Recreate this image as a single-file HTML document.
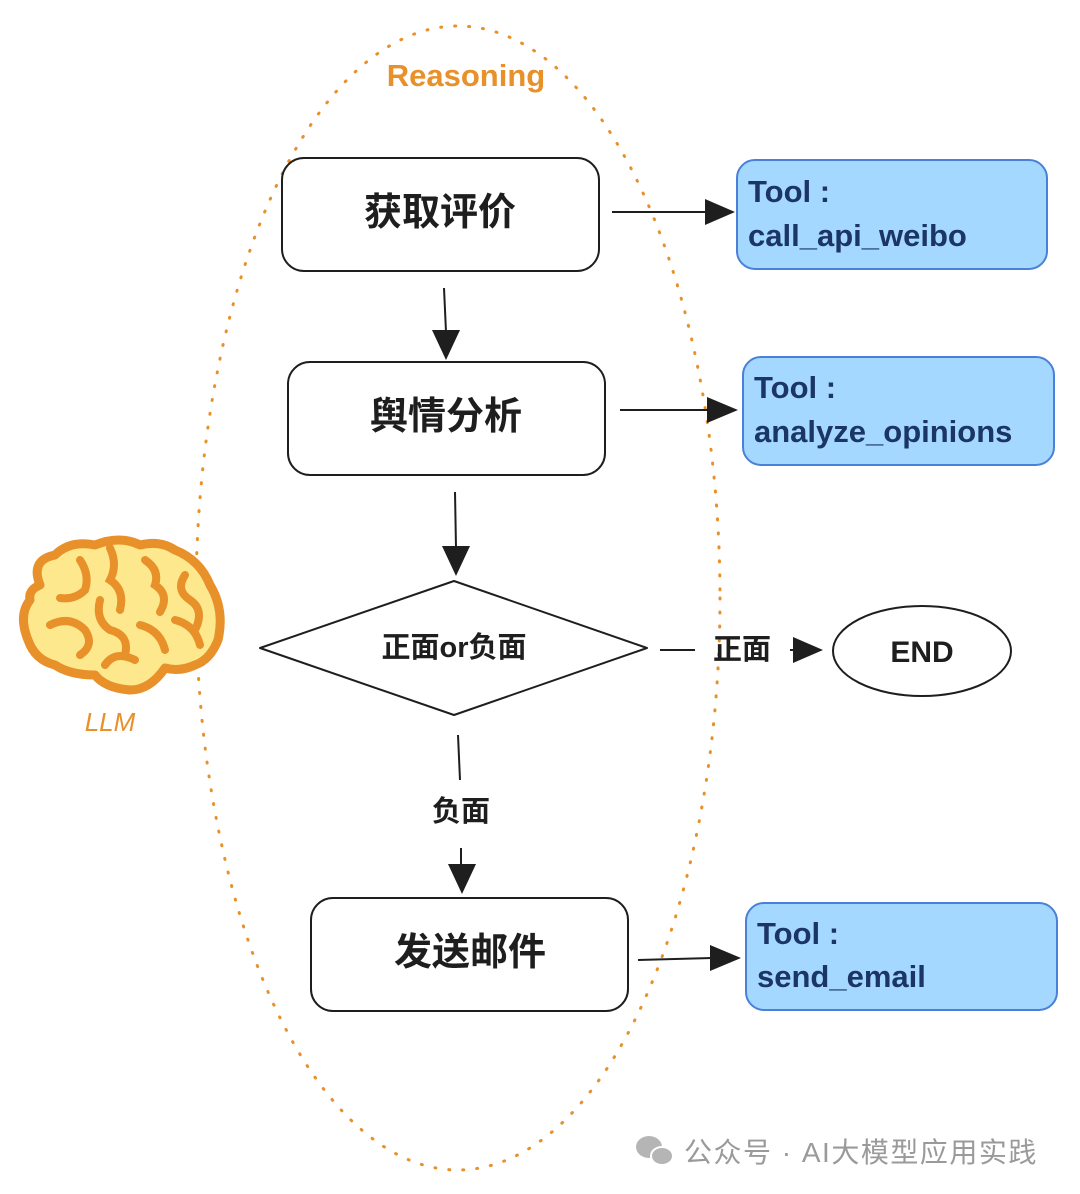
<!DOCTYPE html>
<html><head><meta charset="utf-8"><style>
html,body{margin:0;padding:0;background:#fff;}
svg{display:block;}
text{font-family:"Liberation Sans","Noto Sans CJK SC",sans-serif;}
</style></head><body>
<svg width="1080" height="1194" viewBox="0 0 1080 1194" xmlns="http://www.w3.org/2000/svg">
<ellipse cx="458" cy="598" rx="262" ry="572" fill="none" stroke="#e8902a" stroke-width="3" stroke-dasharray="1 13" stroke-linecap="round"/>
<text x="466" y="86" font-size="31" fill="#e8902a" text-anchor="middle" font-weight="bold">Reasoning</text>

<g fill="#fff" stroke="#1e1e1e" stroke-width="2">
<rect x="282" y="158" width="317" height="113" rx="22"/>
<rect x="288" y="362" width="317" height="113" rx="22"/>
<rect x="311" y="898" width="317" height="113" rx="22"/>
<path d="M260 648 L454 581 L647 648 L454 715 Z" stroke-linejoin="round"/>
<ellipse cx="922" cy="651" rx="89" ry="45"/>
</g>
<g font-size="38" fill="#1e1e1e" text-anchor="middle" font-weight="bold">
<text x="440" y="225">获取评价</text>
<text x="446" y="429">舆情分析</text>
<text x="470" y="965">发送邮件</text>
</g>
<text x="454" y="657" font-size="29" fill="#1e1e1e" text-anchor="middle" font-weight="bold">正面or负面</text>
<text x="922" y="662" font-size="30" fill="#1e1e1e" text-anchor="middle" font-weight="bold">END</text>

<g fill="#a5d8ff" stroke="#4a80d8" stroke-width="2">
<rect x="737" y="160" width="310" height="109" rx="18"/>
<rect x="743" y="357" width="311" height="108" rx="18"/>
<rect x="746" y="903" width="311" height="107" rx="18"/>
</g>
<g font-size="31" fill="#1a3566" font-weight="bold">
<text x="748" y="202">Tool :</text>
<text x="748" y="246">call_api_weibo</text>
<text x="754" y="398">Tool :</text>
<text x="754" y="442">analyze_opinions</text>
<text x="757" y="944">Tool :</text>
<text x="757" y="987">send_email</text>
</g>

<g stroke="#1e1e1e" stroke-width="2" fill="none">
<line x1="612" y1="212" x2="708" y2="212"/>
<line x1="444" y1="288" x2="446" y2="332"/>
<line x1="620" y1="410" x2="710" y2="410"/>
<line x1="455" y1="492" x2="456" y2="548"/>
<line x1="660" y1="650" x2="695" y2="650"/>
<line x1="790" y1="650" x2="796" y2="650"/>
<line x1="458" y1="735" x2="460" y2="780"/>
<line x1="461" y1="848" x2="461" y2="866"/>
<line x1="638" y1="960" x2="712" y2="958"/>
</g>
<g fill="#1e1e1e">
<path d="M735 212 L705 199 L705 225 Z"/>
<path d="M446 360 L432 330 L460 330 Z"/>
<path d="M738 410 L707 397 L707 423 Z"/>
<path d="M456 576 L442 546 L470 546 Z"/>
<path d="M823 650 L793 637 L793 663 Z"/>
<path d="M462 894 L448 864 L476 864 Z"/>
<path d="M741 958 L710 945 L710 971 Z"/>
</g>
<text x="742" y="659" font-size="29" fill="#1e1e1e" text-anchor="middle" font-weight="bold">正面</text>
<text x="461" y="821" font-size="29" fill="#1e1e1e" text-anchor="middle" font-weight="bold">负面</text>

<path d="M40 585 Q30 560 55 555 Q70 540 95 545 Q120 535 140 545 Q160 540 175 550 Q200 560 210 585 Q225 610 218 640 Q210 660 195 665 Q180 672 165 668 Q150 690 130 690 Q105 688 95 675 Q70 675 55 665 Q35 660 28 640 Q18 615 30 600 Q28 590 40 585 Z" fill="#fde88e" stroke="#e8902a" stroke-width="9" stroke-linejoin="round"/>
<g fill="none" stroke="#e8902a" stroke-width="8" stroke-linecap="round">
<path d="M80 560 Q90 575 85 590 Q75 600 60 598"/>
<path d="M110 548 Q118 565 110 580 Q125 590 120 610"/>
<path d="M145 560 Q160 570 155 585 Q170 595 160 612"/>
<path d="M185 575 Q175 590 190 600 Q205 610 195 630"/>
<path d="M50 625 Q70 615 85 630 Q95 645 80 655"/>
<path d="M100 600 Q95 620 110 630 Q130 635 125 655"/>
<path d="M140 625 Q160 630 165 650"/>
<path d="M105 665 Q115 650 135 660"/>
<path d="M175 620 Q195 625 200 645"/>
</g>
<text x="110" y="731" font-size="26" fill="#e8902a" text-anchor="middle" font-style="italic">LLM</text>

<g fill="#b5b5b5">
<ellipse cx="649" cy="1147" rx="13" ry="11"/>
<ellipse cx="662" cy="1156" rx="11" ry="9" stroke="#fff" stroke-width="2"/>
</g>
<text x="684" y="1162" font-size="28" fill="#9a9a9a" letter-spacing="1.5">公众号 · AI大模型应用实践</text>
</svg>
</body></html>
